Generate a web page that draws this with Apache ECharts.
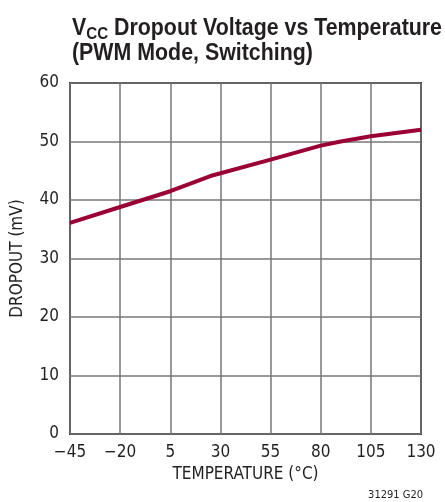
<!DOCTYPE html>
<html>
<head>
<meta charset="utf-8">
<script src="https://cdn.jsdelivr.net/npm/echarts@6/dist/echarts.min.js"></script>
<style>
html,body{margin:0;padding:0;background:#fff;}
#chart{width:445px;height:502px;}
</style>
</head>
<body>
<div id="chart"></div>
<script>
// Data
var temperature = [-45, -20, 5, 25, 55, 80, 90, 105, 130];
var dropout = [36.1, 38.8, 41.5, 44.1, 46.9, 49.3, 50.0, 50.9, 52.0];
var xTicks = [-45, -20, 5, 30, 55, 80, 105, 130];
var yTicks = [0, 10, 20, 30, 40, 50, 60];

var X_MIN = -45, X_MAX = 130, X_STEP = 25;
var FONT = '"DejaVu Sans Condensed", "Liberation Sans", sans-serif';
var TFONT = '"Liberation Sans", Arial, sans-serif';
var INK = '#231f20';

var seriesData = temperature.map(function (t, i) { return [t - X_MIN, dropout[i]]; });

// title layout: condensed by horizontal scaling to fit the reference width
var cv = document.createElement('canvas').getContext('2d');
function w(txt, size) { cv.font = 'bold ' + size + 'px ' + TFONT; return cv.measureText(txt).width; }
var T1a = 'V', T1b = 'CC', T1c = ' Dropout Voltage vs Temperature', T2 = '(PWM Mode, Switching)';
var big = 24, small = 17;
var wa = w(T1a, big), wb = w(T1b, small), wc = w(T1c, big);
var scale = 370 / (wa + wb + wc);
function txt(x, y, s, size) {
  return {type: 'text', x: x, y: y, style: {text: s, font: 'bold ' + size + 'px ' + TFONT, fill: INK, textVerticalAlign: 'bottom', verticalAlign: 'bottom'}};
}
var titleGroup = {
  type: 'group', x: 72, y: 0, scaleX: scale, scaleY: 1,
  children: [
    txt(0, 40, T1a, big),
    txt(wa, 42.5, T1b, small),
    txt(wa + wb, 40, T1c, big),
    txt(0, 65.5, T2, big)
  ]
};

var chart = echarts.init(document.getElementById('chart'), null, {renderer: 'canvas'});
chart.setOption({
  animation: false,
  backgroundColor: '#fff',
  grid: {left: 70, top: 83, width: 351, height: 351, show: true, borderColor: '#333', borderWidth: 2, containLabel: false},
  xAxis: {
    type: 'value', min: 0, max: X_MAX - X_MIN, interval: X_STEP,
    name: 'TEMPERATURE (°C)', nameLocation: 'middle', nameGap: 31,
    nameTextStyle: {fontFamily: FONT, fontSize: 17, color: INK},
    axisLine: {show: false}, axisTick: {show: false},
    axisLabel: {
      fontFamily: FONT, fontSize: 17, color: INK, margin: 10,
      formatter: function (v) { var t = v + X_MIN; return t < 0 ? '\u2212' + Math.abs(t) : String(t); }
    },
    splitLine: {show: true, lineStyle: {color: '#777', width: 1.5}}
  },
  yAxis: {
    type: 'value', min: 0, max: 60, interval: 10,
    name: 'DROPOUT (mV)', nameLocation: 'middle', nameGap: 44, nameRotate: 90,
    nameTextStyle: {fontFamily: FONT, fontSize: 17, color: INK},
    axisLine: {show: false}, axisTick: {show: false},
    axisLabel: {fontFamily: FONT, fontSize: 17, color: INK, margin: 11},
    splitLine: {show: true, lineStyle: {color: '#777', width: 1.5}}
  },
  graphic: [titleGroup, {
    type: 'text', right: 22, bottom: 1,
    style: {text: '31291 G20', fontFamily: FONT, fontSize: 11, fill: INK}
  }],
  series: [{
    type: 'line', data: seriesData, showSymbol: false, smooth: false,
    lineStyle: {color: '#9a0033', width: 4}, z: 5
  }]
});
</script>
</body>
</html>
